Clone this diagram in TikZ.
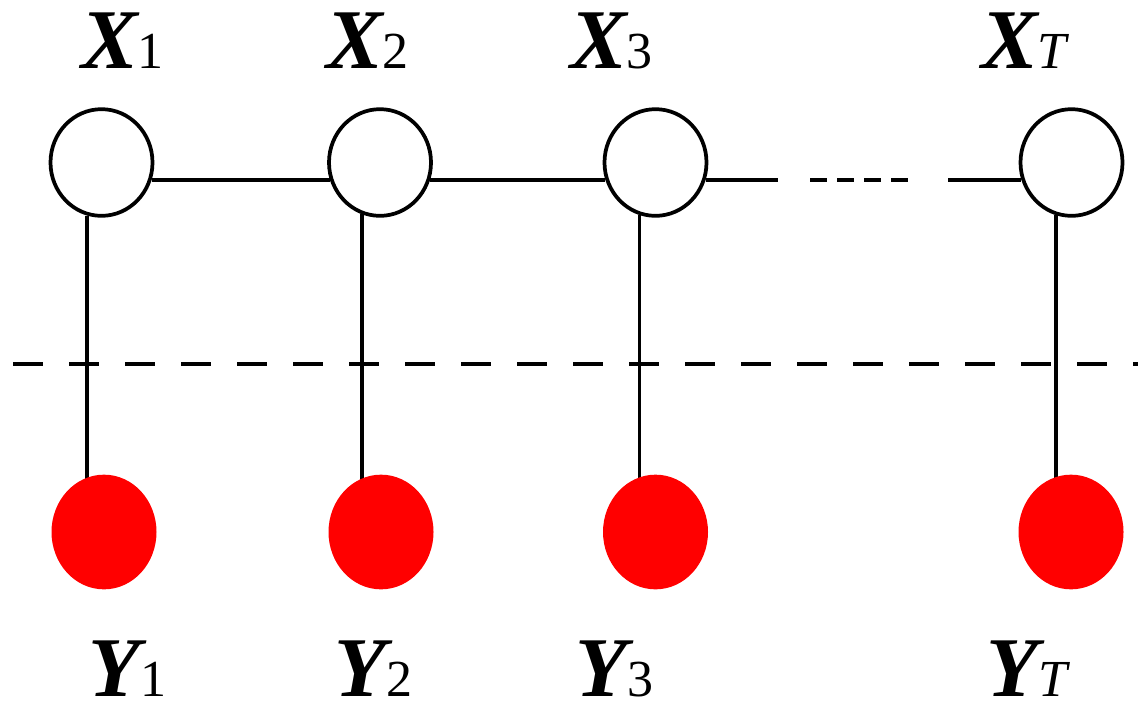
\documentclass[tikz,border=0pt]{standalone}
\usepackage{fontspec}
\setmainfont{Liberation Serif}
\usetikzlibrary{shapes.geometric,backgrounds}
\tikzset{
  hid/.style={ellipse,draw=black,line width=2.8pt,fill=white,minimum width=76.5pt,minimum height=80pt,inner sep=0pt},
  obs/.style={ellipse,fill=red,draw=none,minimum width=78.75pt,minimum height=86pt,inner sep=0pt},
  edge/.style={line width=2.8pt,black},
  sep/.style={line width=2.8pt,black,dash pattern=on 22.5pt off 19.5pt},
  gapdash/.style={line width=2.8pt,black,dash pattern=on 12.75pt off 7.5pt},
  lab/.style={anchor=base west,inner sep=0pt,font=\fontsize{63.75}{64}\selectfont\bfseries\itshape},
}
\newcommand{\subfnt}{\fontsize{39}{39}\selectfont\mdseries\upshape}
\begin{document}
\begin{tikzpicture}[x=0.75pt,y=-0.75pt]
\useasboundingbox (0,0) rectangle (1138,701);
% hidden nodes
\node[hid] (X1) at (101.5,162.5) {};
\node[hid] (X2) at (380,162.5) {};
\node[hid] (X3) at (655.5,162.5) {};
\node[hid] (XT) at (1071.5,162.5) {};
% observed nodes
\node[obs] (Y1) at (104,532) {};
\node[obs] (Y2) at (381,532) {};
\node[obs] (Y3) at (655.5,532) {};
\node[obs] (YT) at (1071,532) {};
% chain
\coordinate (d1) at (778,180);
\coordinate (d2) at (810,180);
\coordinate (d3) at (912,180);
\coordinate (d4) at (948,180);
\draw[edge] (X1.-19) -- (X2.199);
\draw[edge] (X2.-19) -- (X3.199);
\draw[edge] (X3.-19) -- (X3.-19 -| d1);
\draw[gapdash] (d2) -- (d3);
\draw[edge] (d4 |- XT.199) -- (XT.199);
% emissions
\begin{scope}[on background layer]
\draw[edge] (X1.255) -- (X1.255 |- Y1.center);
\draw[edge] (X2.251) -- (X2.251 |- Y2.center);
\draw[edge] (X3.253) -- (X3.253 |- Y3.center);
\draw[edge] (XT.254) -- (XT.254 |- YT.center);
\end{scope}
% separator
\coordinate (s1) at (13,364);
\coordinate (s2) at (1138,364);
\draw[sep] (s1) -- (s2);
% labels
\node[lab] (LX1) at (81,68) {X{\subfnt 1}};
\node[lab] (LX2) at (326,68) {X{\subfnt 2}};
\node[lab] (LX3) at (570,68) {X{\subfnt 3}};
\node[lab] (LXT) at (981,68) {X{\subfnt\itshape T}};
\node[lab] (LY1) at (88,696) {Y{\subfnt 1}};
\node[lab] (LY2) at (334,696) {Y{\subfnt 2}};
\node[lab] (LY3) at (575,696) {Y{\subfnt 3}};
\node[lab] (LYT) at (986,696) {Y{\subfnt\itshape T}};
\end{tikzpicture}
\end{document}
